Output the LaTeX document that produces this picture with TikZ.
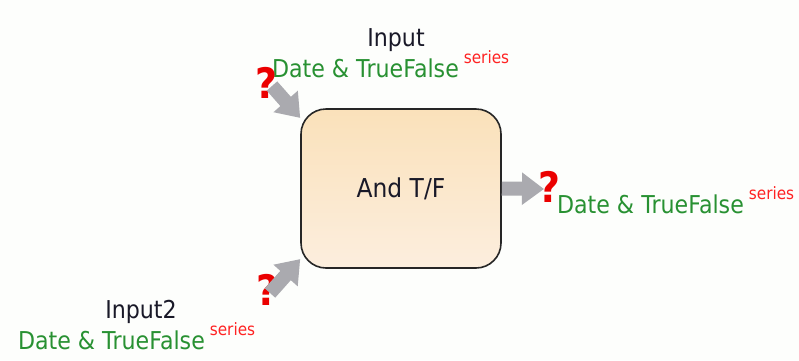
\documentclass[tikz,border=0pt]{standalone}
\usepackage{fontspec}
\setmainfont{DejaVu Sans}[FakeStretch=0.9]
\usepackage{tikz}
\usetikzlibrary{arrows.meta,positioning}
\definecolor{canvasbg}{RGB}{253,254,252}
\definecolor{inktext}{RGB}{25,25,40}
\definecolor{typegreen}{RGB}{40,145,50}
\definecolor{tagred}{RGB}{255,35,35}
\definecolor{qred}{RGB}{235,0,0}
\definecolor{pingrey}{RGB}{170,170,175}
\definecolor{fntop}{RGB}{250,225,186}
\definecolor{fnbot}{RGB}{252,238,222}
\tikzset{
  base/.style={inner sep=0pt, outer sep=0pt},
  portname/.style={base, text=inktext, font=\fontsize{24.6}{28}\selectfont},
  typename/.style={base, text=typegreen, font=\fontsize{24.6}{28}\selectfont},
  sertag/.style={base, text=tagred, font=\fontsize{17}{19}\selectfont},
  unknown/.style={base, text=qred, font=\bfseries\fontsize{42}{42}\selectfont},
  fnbox/.style={rectangle, rounded corners=25pt, draw=black!85, line width=1.6pt, top color=fntop, bottom color=fnbot, minimum width=200pt, minimum height=159pt, text=inktext, font=\fontsize{26}{30}\selectfont},
  pin/.style={draw=pingrey, line width=14pt, -{Triangle[length=22pt,width=31pt]}},
}
\begin{document}
\begin{tikzpicture}[x=1pt,y=-1pt]
  \fill[canvasbg] (0,0) rectangle (799,360);
  \useasboundingbox (0,0) rectangle (799,360);

  % function block
  \node[fnbox] (fn) at (401,188.5) {And T/F};

  % first input
  \node[portname, anchor=base] (pA) at (396,46) {Input};
  \node[typename, anchor=base west] (tA) at (272,77) {Date \& TrueFalse};
  \node[unknown, anchor=base] (qA) at (266,98) {?};
  \coordinate (pinA) at (272,86);

  % second input
  \node[portname, anchor=base] (pB) at (141,318) {Input2};
  \node[typename, anchor=base west] (tB) at (18,349) {Date \& TrueFalse};
  \node[unknown, anchor=base] (qB) at (267,305) {?};
  \coordinate (pinB) at (270,293);

  % output
  \node[unknown, anchor=base] (qC) at (549,202) {?};
  \node[typename, anchor=base west] (tC) at (557,213) {Date \& TrueFalse};
  \coordinate (pinC) at (544,189);

  \foreach \t in {tA,tB,tC}
    \node[sertag, anchor=base west] at ([xshift=5pt,yshift=14pt]\t.base east) {series};

  % port arrows
  \draw[pin] (pinA) -- (fn.145);
  \draw[pin] (pinB) -- (fn.215);
  \draw[pin] (fn.east) -- (pinC);
\end{tikzpicture}
\end{document}
